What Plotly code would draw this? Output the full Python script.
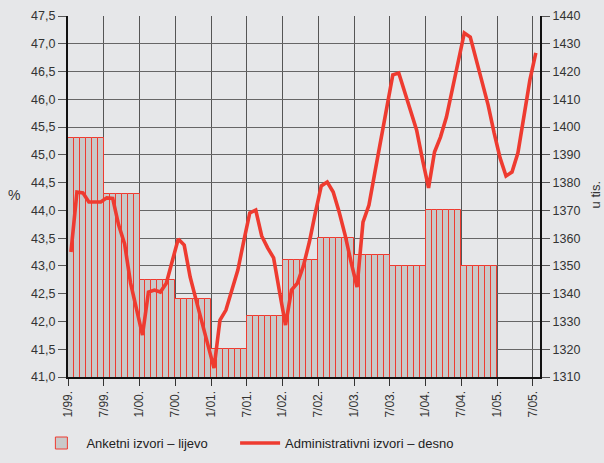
import plotly.graph_objects as go

# Half-year survey values (%), 1/99 .. 7/04 (each covers 6 months)
survey_halfyears = ["1/99", "7/99", "1/00", "7/00", "1/01", "7/01",
                    "1/02", "7/02", "1/03", "7/03", "1/04", "7/04"]
survey_values = [45.3, 44.3, 42.75, 42.4, 41.5, 42.1,
                 43.1, 43.5, 43.2, 43.0, 44.0, 43.0]

# Monthly administrative values (thousands), 1/99 .. 7/05
admin_values = [
    1355.0, 1376.6, 1376.3, 1373.0, 1373.0, 1373.0, 1374.5, 1374.3, 1364.7, 1357.9, 1343.8, 1334.5,
    1325.1, 1340.6, 1341.3, 1340.6, 1343.8, 1351.8, 1359.7, 1357.5, 1346.0, 1337.7, 1329.8, 1321.5,
    1313.2, 1330.5, 1334.1, 1341.3, 1348.5, 1359.0, 1369.1, 1370.1, 1360.8, 1356.5, 1352.9, 1340.6,
    1328.7, 1341.3, 1343.8, 1350.0, 1358.6, 1369.1, 1378.8, 1380.2, 1376.6, 1369.4, 1361.1, 1351.4,
    1342.4, 1365.8, 1371.9, 1383.8, 1395.3, 1407.2, 1418.8, 1419.5, 1412.3, 1405.4, 1398.9, 1388.1,
    1378.1, 1391.0, 1396.4, 1403.6, 1414.1, 1424.9, 1433.9, 1432.4, 1424.2, 1415.9, 1407.9, 1397.9,
    1388.9, 1382.4, 1383.8, 1390.7, 1403.6, 1416.9, 1426.7,
]

x_tick_labels = ["1/99.", "7/99.", "1/00.", "7/00.", "1/01.", "7/01.", "1/02.",
                 "7/02.", "1/03.", "7/03.", "1/04.", "7/04.", "1/05.", "7/05."]
left_ticks = [41.0 + 0.5 * k for k in range(14)]
left_tick_text = [f"{v:.1f}".replace(".", ",") for v in left_ticks]
right_ticks = list(range(1310, 1441, 10))

# monthly bars: each half-year value spans six months
survey_monthly = [v for v in survey_values for _ in range(6)]
bar_x = [i + 0.5 for i in range(len(survey_monthly))]
line_x = [i + 0.5 for i in range(len(admin_values))]

RED = "#ee3b30"
BG = "#e6e7e9"
FONT = "Liberation Sans, Arial, sans-serif"

fig = go.Figure()
fig.add_trace(go.Bar(
    x=bar_x, y=survey_monthly, width=1.0,
    marker=dict(color="#c9c9c9", line=dict(color=RED, width=1)),
    name="Anketni izvori – lijevo", yaxis="y", base=0, legend="legend",
))
fig.add_trace(go.Scatter(
    x=line_x, y=admin_values, mode="lines",
    line=dict(color=RED, width=3.6),
    name="Administrativni izvori – desno", yaxis="y2", legend="legend2",
))

legend_common = dict(orientation="h", xanchor="left", y=-0.183, yanchor="middle",
                     font=dict(size=13, color="#222222"), bgcolor="rgba(0,0,0,0)",
                     itemwidth=40)

fig.update_layout(
    width=604, height=463,
    paper_bgcolor=BG, plot_bgcolor=BG,
    margin=dict(l=68, r=64, t=16, b=86, autoexpand=False),
    font=dict(family=FONT, size=12, color="#333333"),
    bargap=0,
    showlegend=True,
    legend=dict(x=-0.067, **legend_common),
    legend2=dict(x=0.354, **legend_common),
    xaxis=dict(
        range=[0, 79.2], tickvals=list(range(0, 79, 6)), ticktext=x_tick_labels,
        tickangle=-90, showgrid=True, gridcolor="#555555", gridwidth=1.2,
        ticks="outside", ticklen=7, tickcolor="#333333", tickwidth=1.2,
        showline=True, linecolor="#111111", linewidth=2.2, automargin=False,
        zeroline=False, tickfont=dict(size=12, color="#333333"),
    ),
    yaxis=dict(
        range=[41.0, 47.5], tickvals=left_ticks, ticktext=left_tick_text,
        showgrid=True, gridcolor="#666666", gridwidth=1.4,
        ticks="outside", ticklen=8, tickcolor="#555555", tickwidth=1.4,
        showline=True, linecolor="#111111", linewidth=2.2, automargin=False,
        zeroline=False, tickfont=dict(size=12.5, color="#333333"),
    ),
    yaxis2=dict(
        range=[1310, 1440], tickvals=right_ticks, overlaying="y", side="right",
        showgrid=False, ticks="outside", ticklen=8, tickcolor="#555555", tickwidth=1.4,
        showline=True, linecolor="#111111", linewidth=2.2, zeroline=False, automargin=False,
        tickfont=dict(size=12.5, color="#333333"),
    ),
)

fig.add_annotation(text="%", xref="paper", yref="paper", x=-0.115, y=0.505,
                   showarrow=False, font=dict(size=14, color="#333333"),
                   xanchor="center", yanchor="middle")
fig.add_annotation(text="u tis.", xref="paper", yref="paper", x=1.118, y=0.505,
                   showarrow=False, textangle=-90, font=dict(size=13, color="#333333"),
                   xanchor="center", yanchor="middle")

fig.write_html(
    "out.html",
    config={"displayModeBar": False},
    post_script="document.body.style.margin='0';document.body.style.background='#e6e7e9';",
)
